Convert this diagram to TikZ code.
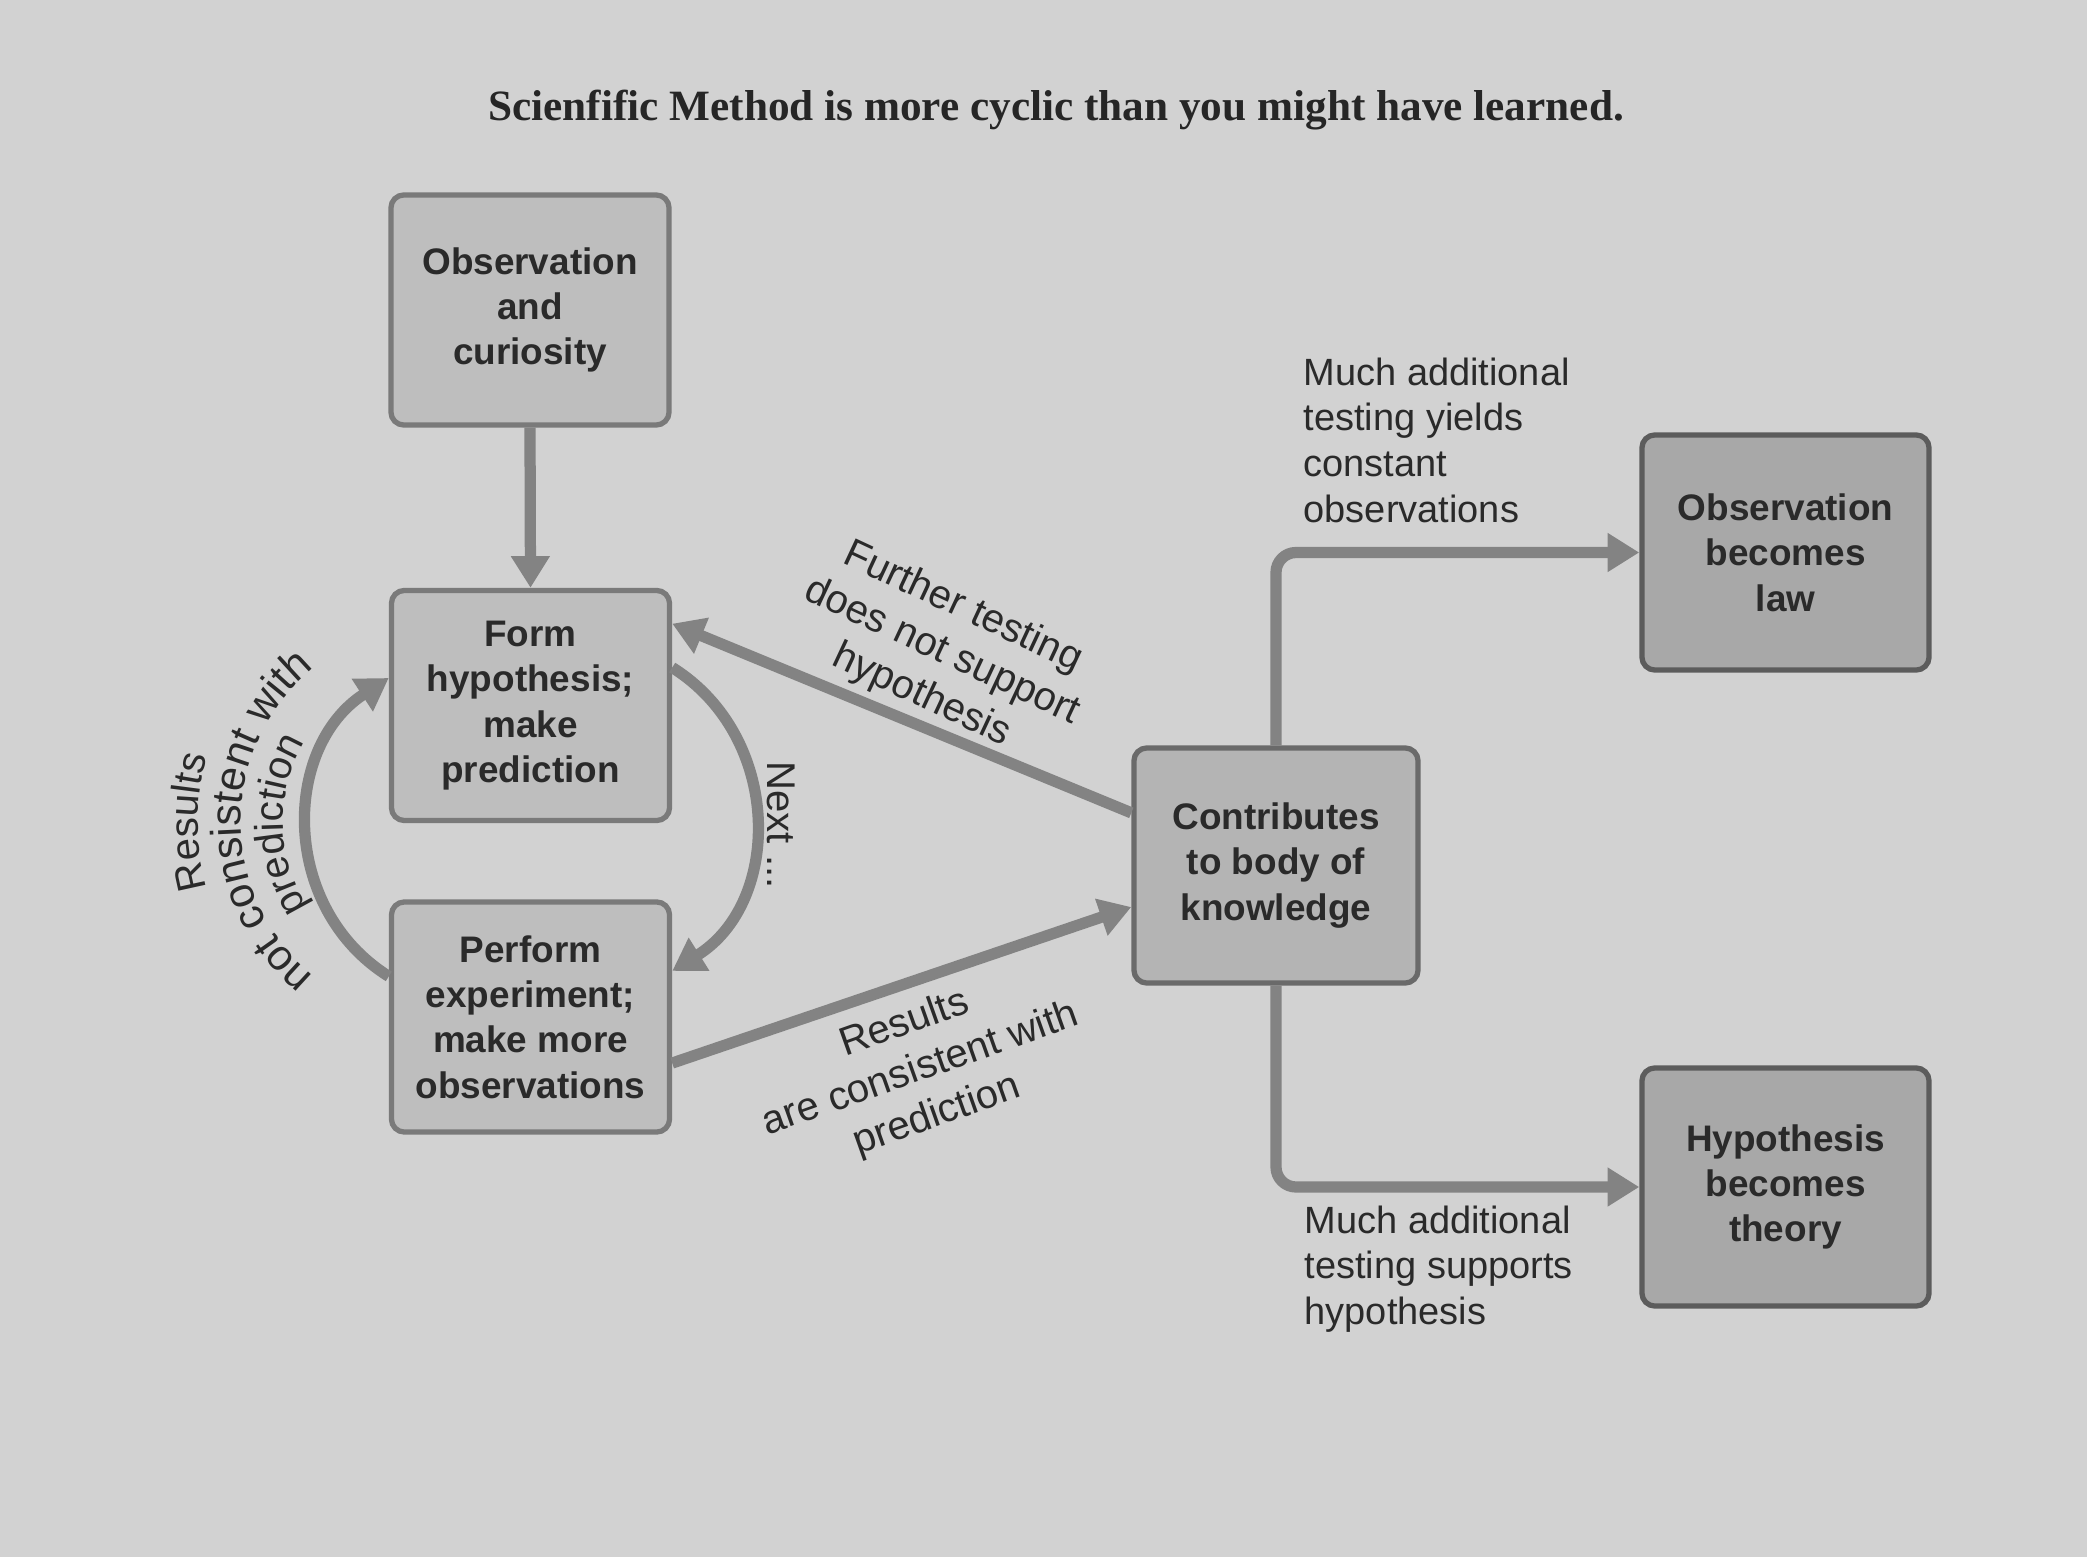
\documentclass[tikz,border=0pt]{standalone}
\usepackage{fontspec}
\setmainfont{Liberation Sans}
\newfontfamily\titlefnt{Liberation Serif}
\usetikzlibrary{arrows.meta,decorations.text}
\definecolor{bgc}{HTML}{D2D2D2}
\definecolor{txt}{HTML}{2A2A2A}
\definecolor{lfill}{HTML}{BEBEBE}
\definecolor{lline}{HTML}{7A7A7A}
\definecolor{cfill}{HTML}{B4B4B4}
\definecolor{cline}{HTML}{6A6A6A}
\definecolor{rfill}{HTML}{A8A8A8}
\definecolor{rline}{HTML}{5C5C5C}
\definecolor{arrc}{HTML}{838383}
\newcommand\boxfnt{\fontsize{10.5}{12.9}\selectfont\bfseries}
\newcommand\midfnt{\fontsize{11.4}{13.8}\selectfont}
\newcommand\arcfnt{\fontsize{12.2}{14}\selectfont}
\newcommand\rfnt{\fontsize{10.8}{13}\selectfont}
\tikzset{
  stepbox/.style={draw=lline, fill=lfill, line width=1.5pt, rounded corners=0.13cm,
    align=center, font=\boxfnt, text=txt, inner sep=0pt},
  flowarrow/.style={draw=arrc, line width=3.2pt, -{Triangle[length=9pt,width=10.5pt]}},
  lbl/.style={text=txt, inner sep=0pt},
}
\begin{document}
\begin{tikzpicture}[x=0.01cm,y=0.01cm]
\useasboundingbox (0,0) rectangle (2087,-1557);
\fill[bgc] (0,0) rectangle (2087,-1557);

\node[lbl, font=\titlefnt\bfseries\fontsize{12.3}{14}\selectfont, text=black!85] (title) at (1056,-110)
  {Scienfific Method is more cyclic than you might have learned.};

\node[stepbox, minimum width=2.78cm, minimum height=2.30cm] (obs) at (530,-310) {Observation\\and\\curiosity};
\node[stepbox, minimum width=2.78cm, minimum height=2.30cm] (form) at (530.5,-705.5) {Form\\hypothesis;\\make\\prediction};
\node[stepbox, minimum width=2.78cm, minimum height=2.30cm] (perf) at (530.5,-1017) {Perform\\experiment;\\make more\\observations};
\node[stepbox, draw=cline, fill=cfill, minimum width=2.84cm, minimum height=2.35cm] (contrib) at (1276,-865.5) {Contributes\\to body of\\knowledge};
\node[stepbox, draw=rline, fill=rfill, minimum width=2.87cm, minimum height=2.35cm] (law) at (1785.5,-552.5) {Observation\\becomes\\law};
\node[stepbox, draw=rline, fill=rfill, minimum width=2.87cm, minimum height=2.38cm] (theory) at (1785.5,-1187) {Hypothesis\\becomes\\theory};

\draw[flowarrow] (obs.south) -- (form.north);
\draw[flowarrow] (contrib.160) -- (form.30);
\draw[flowarrow] (perf.-18) -- (contrib.196);
\draw[flowarrow, rounded corners=0.2cm] (contrib.north) |- (law.west);
\draw[flowarrow, rounded corners=0.2cm] (contrib.south) |- (theory.west);
\draw[flowarrow] (perf.164) to[out=148, in=213, looseness=1.1] (form.169);
\draw[flowarrow] (form.15) to[out=-32, in=32, looseness=1.1] (perf.18);

\node[lbl, font=\rfnt, align=left, anchor=west] (lawlbl) at (1303,-440)
  {Much additional\\testing yields\\constant\\observations};
\node[lbl, font=\rfnt, align=left, anchor=west] (thlbl) at (1304,-1269)
  {Much additional\\testing supports\\hypothesis};
\node[lbl, font=\midfnt, rotate=-90] (nextlbl) at (781,-825) {Next ...};
\node[lbl, font=\midfnt, rotate=-25, align=center] (furtherlbl) at (942,-652)
  {Further testing\\does not support\\hypothesis};
\node[lbl, font=\midfnt, rotate=19.5, align=center] (reslbl) at (921,-1070)
  {Results\\are consistent with\\prediction};

\coordinate (lc) at (440,-822);
\path[decorate, decoration={text along path, text align=center,
  text={|\midfnt\color{txt}|Results}}]
  ([shift={(210:242)}]lc) arc[start angle=210, end angle=150, radius=242];
\path[decorate, decoration={text along path, text align=center,
  text={|\arcfnt\color{txt}|not consistent with}}]
  ([shift={(245:199)}]lc) arc[start angle=245, end angle=115, radius=199];
\path[decorate, decoration={text along path, text align=center,
  text={|\midfnt\color{txt}|prediction}}]
  ([shift={(215:157)}]lc) arc[start angle=215, end angle=147, radius=157];
\end{tikzpicture}
\end{document}
